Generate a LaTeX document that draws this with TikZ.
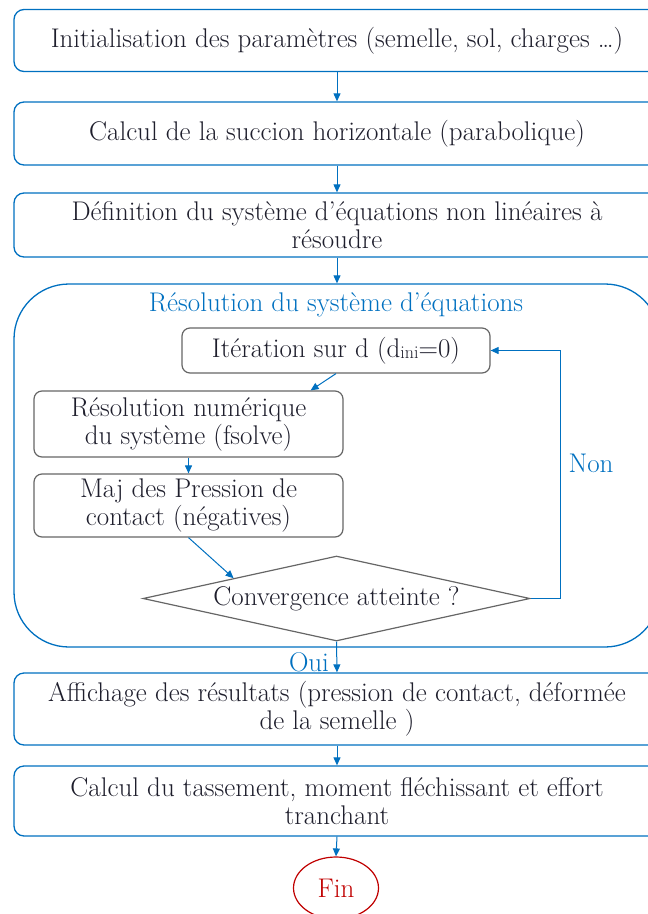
\documentclass[tikz,border=0pt]{standalone}
\usetikzlibrary{shapes.geometric,arrows.meta,calc}

\definecolor{flowblue}{HTML}{0070C0}
\definecolor{flowgray}{HTML}{666666}
\definecolor{flowtext}{HTML}{1E1E2C}
\definecolor{flowred}{HTML}{C00000}

\begin{document}
\begin{tikzpicture}[
  x=1pt, y=-1pt,
  every node/.style={inner sep=1pt, text=flowtext, font=\fontsize{27}{28}\selectfont},
  stepbox/.style={draw=flowblue, line width=1.3pt, rounded corners=10pt,
    minimum width=646pt, align=center},
  subbox/.style={draw=flowgray, line width=1.2pt, rounded corners=8pt,
    align=center},
  % the big container round the iteration loop
  groupbox/.style={draw=flowblue, line width=1.3pt, rounded corners=55pt,
    minimum width=646pt, minimum height=363pt},
  decision/.style={diamond, draw=flowgray, line width=1.2pt, inner sep=0pt,
    aspect=4.6, minimum width=387pt, minimum height=85pt},
  endnode/.style={ellipse, draw=flowred, line width=1.2pt, text=flowred,
    minimum width=85pt, minimum height=62pt},
  bluetext/.style={text=flowblue},
  arrow/.style={draw=flowblue, line width=1pt,
    -{Triangle[length=8pt, width=7pt]}}]

  \useasboundingbox (0,0) rectangle (648,914);

  % ---- the preparation steps ----------------------------------------------
  \node[stepbox, minimum height=62pt] (init) at (337,40.5)
    {Initialisation des paramètres (semelle, sol, charges …)};
  \node[stepbox, minimum height=63pt] (succ) at (337,133.5)
    {Calcul de la succion horizontale (parabolique)};
  \node[stepbox, minimum height=64pt] (defn) at (337,225)
    {Définition du système d’équations non linéaires à\\résoudre};

  % ---- the resolution loop --------------------------------------------------
  \node[groupbox] (grp) at (337,465.5) {};
  \node[bluetext] (grptitle) at (336,305) {Résolution du système d’équations};
  \node[subbox, minimum width=308pt, minimum height=45pt] (iter) at (336,350.5)
    {Itération sur d (d\raisebox{-1pt}{\fontsize{18}{18}\selectfont ini}=0)};
  \node[subbox, minimum width=309pt, minimum height=66pt] (resol) at (188.5,424)
    {Résolution numérique\\du système (fsolve)};
  \node[subbox, minimum width=309pt, minimum height=63pt] (maj) at (188.5,505.5)
    {Maj des Pression de\\contact (négatives)};
  \node[decision] (conv) at (336.5,598.5) {Convergence atteinte ?};
  \node[bluetext] (non) at (591,463) {Non};
  \node[bluetext] (oui) at (309,662) {Oui};

  % ---- the results ----------------------------------------------------------
  \node[stepbox, minimum height=72pt] (aff) at (337,709)
    {Affichage des résultats (pression de contact, déformée\\de la semelle )};
  \node[stepbox, minimum height=70pt] (calc) at (337,801)
    {Calcul du tassement, moment fléchissant et effort\\tranchant};
  \node[endnode] (fin) at (336,888) {Fin};

  % ---- connectors -----------------------------------------------------------
  \draw[arrow] (init.south) -- (succ.north);
  \draw[arrow] (succ.south) -- (defn.north);
  \draw[arrow] (defn.south) -- (grp.north);
  \draw[arrow] (iter.south) -- ([xshift=-33pt]resol.north east);
  \draw[arrow] (resol.south) -- (maj.north);
  \draw[arrow] (maj.south) -- ($(conv.west)!0.47!(conv.north)$);
  \draw[arrow] (conv.east) -- ++(30,0) |- (iter.east);
  \draw[arrow] (conv.south) -- (aff.north);
  \draw[arrow] (aff.south) -- (calc.north);
  \draw[arrow] (calc.south) -- (fin.north);
\end{tikzpicture}
\end{document}
